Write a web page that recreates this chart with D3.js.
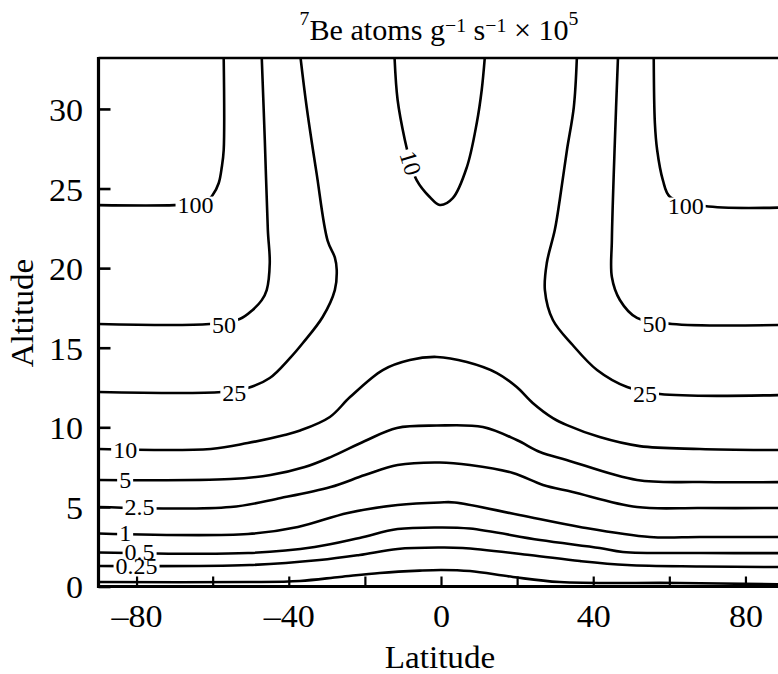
<!DOCTYPE html>
<html><head><meta charset="utf-8">
<script src="https://cdn.jsdelivr.net/npm/d3@7"></script>
<style>
body{margin:0;background:#fff}
svg{display:block}
text{font-family:"Liberation Serif","Times New Roman",serif;fill:#000}
</style>
</head><body>
<svg id="c" width="778" height="674"></svg>
<script>
// ---------- data (latitude in degrees, altitude in km) ----------
const latTicks = [-80, -60, -40, -20, 0, 20, 40, 60, 80];
const latTickLabels = ["\u201380", "", "\u201340", "", "0", "", "40", "", "80"];
const altTicks = [0, 5, 10, 15, 20, 25, 30];
const altTickLabels = ["0", "5", "10", "15", "20", "25", "30"];

const lineLowest = [[-90,0.28],[-50.3,0.28],[-37.1,0.35],[-26.6,0.6],[-16.1,0.85],[-5.6,1.0],[0.2,1.04],[7.6,0.97],[18.9,0.6],[31.2,0.28],[62.8,0.22],[90,0.13]];
const line025 = [[-90,1.29],[-50.3,1.35],[-31.9,1.66],[-21.4,1.98],[-11.4,2.36],[-0.3,2.45],[5.7,2.42],[23.3,1.98],[36.5,1.6],[48.9,1.35],[68,1.26],[90,1.22]];
const line05 = [[-90,2.14],[-50.7,2.1],[-33.2,2.48],[-21.4,3.05],[-11.4,3.61],[-0.3,3.71],[7.6,3.64],[26,2.92],[41.7,2.42],[47.8,2.17],[68,2.1],[90,2.1]];
const line1 = [[-90,3.33],[-50.7,3.3],[-37.6,3.74],[-24.5,4.62],[-11.4,5.12],[-0.3,5.28],[3.6,5.28],[20.6,4.49],[36.5,3.74],[54.9,3.11],[68,3.11],[90,3.11]];
const line25 = [[-90,4.99],[-55.3,4.99],[-42.1,5.56],[-29,6.25],[-20,7.0],[-11.4,7.63],[-0.3,7.79],[7.6,7.63],[18.9,7.13],[26.8,6.38],[34.6,5.94],[51.5,4.99],[68,4.93],[90,4.93]];
const line5 = [[-90,6.69],[-55.3,6.75],[-44.8,7.0],[-35.8,7.5],[-29,8.13],[-20,9.14],[-11.6,9.96],[-1.1,10.11],[11,10.02],[19.9,9.2],[26,8.45],[33,7.95],[51.5,6.69],[68,6.56],[90,6.56]];
const line10Low = [[-90,8.64],[-60.5,8.64],[-50.8,9.01],[-41.1,9.52],[-37,9.8],[-29.2,10.65],[-23.9,11.9],[-15.3,13.6],[-8.2,14.23],[-1.1,14.42],[6.8,14.1],[14.7,13.41],[19.9,12.53],[24.1,11.53],[29.4,10.58],[33.1,10.14],[41.7,9.39],[52.2,8.82],[68,8.64],[90,8.57]];
const line10Up = [[-12.2,33.2],[-11.4,30.56],[-9.5,28.05],[-8.2,26.79],[-6.4,25.53],[-2.96,24.47],[-0.3,23.97],[3.1,24.4],[6.8,26.35],[9.4,29.12],[10.7,31.19],[11.5,33.2]];
const line25W = [[-90,12.22],[-57.6,12.22],[-50.8,12.47],[-45,13.1],[-39.7,14.35],[-36.3,15.3],[-31.1,16.93],[-27.9,18.62],[-27.4,19.88],[-27.9,20.67],[-29.8,21.73],[-32.7,25.97],[-35.3,30.12],[-36.9,33.2]];
const line25E = [[35.7,33.2],[34.9,30.12],[33.1,27.42],[31.2,24.28],[29.9,22.39],[27.8,20.32],[27.3,18.62],[29.4,16.74],[34.6,15.17],[41,13.6],[48.9,12.53],[57.5,12.09],[90,12.03]];
const line50W = [[-90,16.49],[-60.8,16.49],[-52.9,16.8],[-49.5,17.37],[-47.1,17.99],[-45.8,18.62],[-45,20.32],[-45.5,22.39],[-46.3,28.05],[-47.1,33.2]];
const line50E = [[46.5,33.2],[45.7,28.05],[44.9,21.77],[44.9,19.44],[47,18.0],[51.5,16.87],[60.7,16.49],[90,16.43]];
const line100W = [[-90,23.96],[-70,23.96],[-62.1,24.09],[-60,24.59],[-58.4,25.35],[-57.6,26.35],[-57.1,27.42],[-57.1,33.2]];
const line100E = [[55.9,33.2],[56.2,29.12],[56.8,27.42],[58.3,25.53],[60.2,24.47],[69.3,23.9],[90,23.81]];

const contourLines = [lineLowest, line025, line05, line1, line25, line5, line10Low, line10Up, line25W, line25E, line50W, line50E, line100W, line100E];

const labelTexts = ["100", "50", "25", "10", "5", "2.5", "1", "0.5", "0.25", "10", "100", "50", "25"];
const labelLat   = [-64.5, -57.0, -54.3, -83.0, -83.0, -79.2, -83.0, -79.2, -80.0, -8.0, 64.3, 56.1, 53.6];
const labelAlt   = [23.96, 16.45, 12.15, 8.6, 6.72, 4.99, 3.35, 2.15, 1.29, 26.6, 23.9, 16.49, 12.09];
const labelAngle = [0, 0, 0, 0, 0, 0, 0, 0, 0, 73, 0, 0, 0];

// ---------- drawing ----------
const svg = d3.select("#c");
const x = d3.scaleLinear().domain([-90, 90]).range([98.5, 783.5]);
const y = d3.scaleLinear().domain([0, 33.2]).range([586.5, 58]);

svg.append("rect").attr("width", 778).attr("height", 674).attr("fill", "#fff");

svg.append("clipPath").attr("id", "plot").append("rect")
  .attr("x", x(-90)).attr("y", y(33.2)).attr("width", x(90) - x(-90)).attr("height", y(0) - y(33.2));

const line = d3.line().x(d => x(d[0])).y(d => y(d[1])).curve(d3.curveCatmullRom.alpha(0.5));
const gl = svg.append("g").attr("clip-path", "url(#plot)");
contourLines.forEach(pts => {
  gl.append("path").attr("d", line(pts)).attr("fill", "none")
    .attr("stroke", "#000").attr("stroke-width", 2.6).attr("stroke-linejoin", "round");
});

// contour labels: white gaps first, then all texts on top
const gBg = svg.append("g");
const gTx = svg.append("g");
labelTexts.forEach((t, i) => {
  const tf = `translate(${x(labelLat[i])},${y(labelAlt[i])}) rotate(${labelAngle[i]})`;
  const tx = gTx.append("text").attr("transform", tf).attr("text-anchor", "middle").attr("dy", "0.34em")
    .attr("font-size", 24).text(t);
  const bb = tx.node().getBBox();
  gBg.append("rect").attr("transform", tf).attr("x", bb.x - 2).attr("y", -8.5)
    .attr("width", bb.width + 4).attr("height", 17).attr("fill", "#fff");
});

// axes
const xAxis = d3.axisBottom(x).tickValues(latTicks).tickFormat((d, i) => latTickLabels[i])
  .tickSizeInner(-10).tickSizeOuter(0).tickPadding(18.5);
const gx = svg.append("g").attr("transform", `translate(0,${y(0)})`).call(xAxis);
gx.select(".domain").remove();
gx.selectAll(".tick line").attr("stroke", "#000").attr("stroke-width", 2.2);
gx.selectAll(".tick text").attr("font-size", 31).attr("font-family", '"Liberation Serif",serif')
  .attr("transform", "scale(1.1,1)");

const yAxis = d3.axisLeft(y).tickValues(altTicks).tickFormat((d, i) => altTickLabels[i])
  .tickSizeInner(-12).tickSizeOuter(0).tickPadding(14);
const gy = svg.append("g").attr("transform", `translate(${x(-90)},0)`).call(yAxis);
gy.select(".domain").remove();
gy.selectAll(".tick line").attr("stroke", "#000").attr("stroke-width", 2.6);
gy.selectAll(".tick text").attr("font-size", 31).attr("font-family", '"Liberation Serif",serif')
  .attr("dy", "0.37em").attr("transform", "scale(1.1,1)");

// frame
svg.append("path").attr("d", `M${x(-90)},${y(33.2)}H${x(90)}`).attr("stroke", "#000").attr("stroke-width", 2.4);
svg.append("path").attr("d", `M${x(-90)},${y(33.2) - 1}V${y(0) + 1.5}`).attr("stroke", "#000").attr("stroke-width", 3.2);
svg.append("path").attr("d", `M${x(-90) - 1.5},${y(0)}H${x(90)}`).attr("stroke", "#000").attr("stroke-width", 3.2);

// axis titles
svg.append("text").attr("transform", "translate(440,668) scale(1.07,1)")
  .attr("text-anchor", "middle").attr("font-size", 31).text("Latitude");
svg.append("text").attr("transform", "translate(33,313) rotate(-90) scale(1.07,1)")
  .attr("text-anchor", "middle").attr("font-size", 31).text("Altitude");

// chart title
const title = svg.append("text").attr("transform", "translate(439,40) scale(1.04,1)")
  .attr("text-anchor", "middle").attr("font-size", 29);
title.append("tspan").attr("font-size", 19).attr("dy", -15).text("7");
title.append("tspan").attr("dy", 15).text("Be atoms g");
title.append("tspan").attr("font-size", 19).attr("dy", -8).text("\u22121");
title.append("tspan").attr("dy", 8).text(" s");
title.append("tspan").attr("font-size", 19).attr("dy", -8).text("\u22121");
title.append("tspan").attr("dy", 8).text(" \u00d7 10");
title.append("tspan").attr("font-size", 19).attr("dy", -15).text("5");
</script>
</body></html>
